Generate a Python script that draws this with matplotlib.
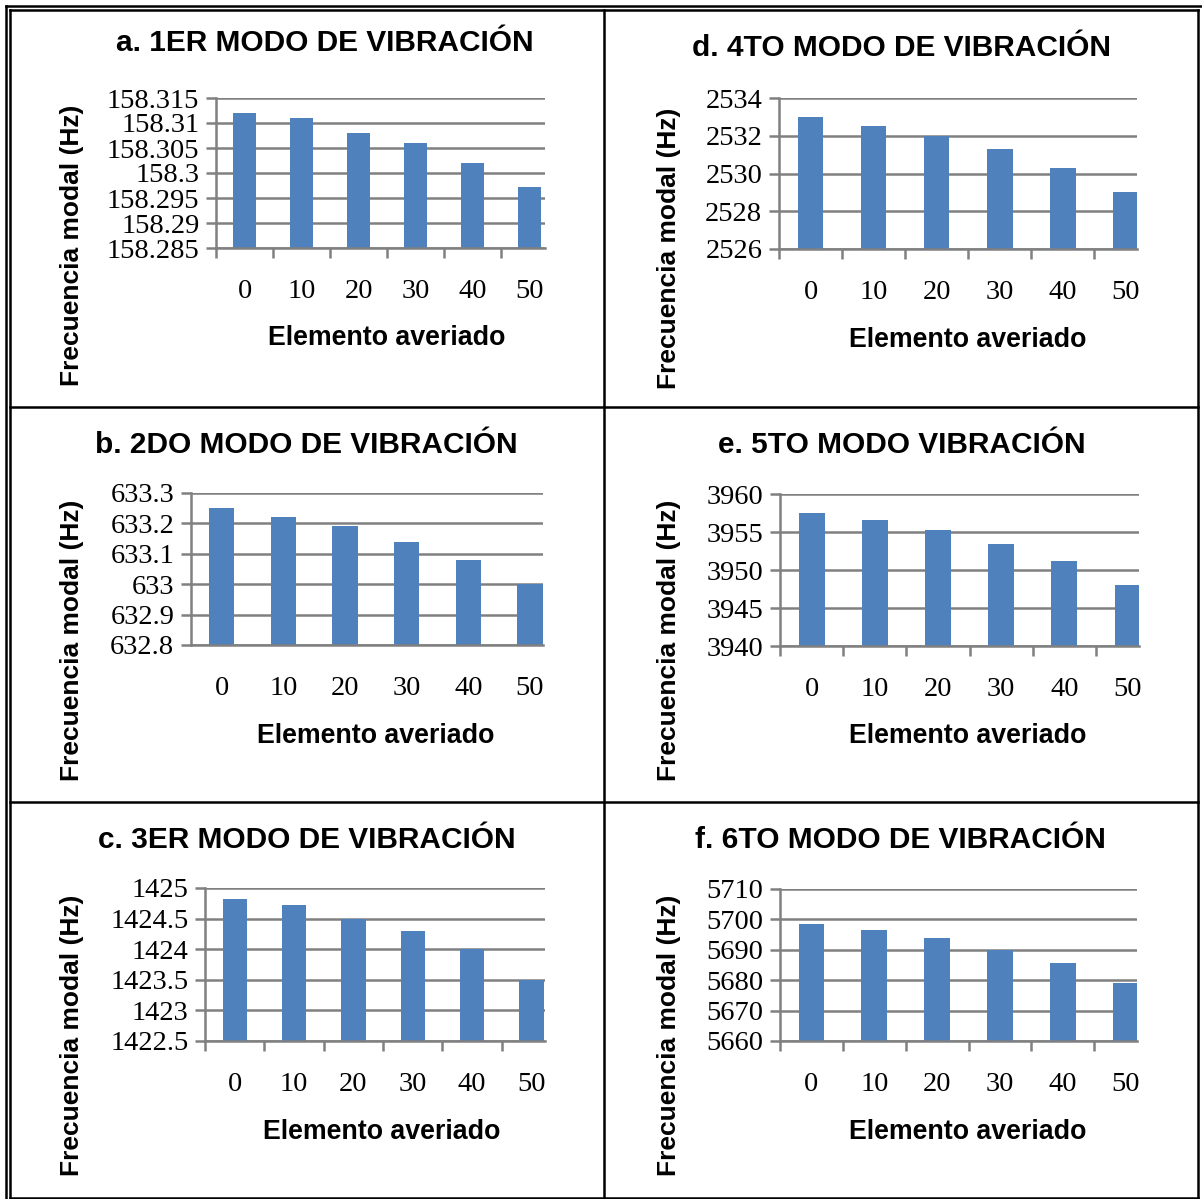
import numpy as np
import matplotlib
matplotlib.use('Agg')
import matplotlib.pyplot as plt
from matplotlib.lines import Line2D

# datos
elementos = ['0', '10', '20', '30', '40', '50']

modo1 = [158.3120, 158.3110, 158.3080, 158.3060, 158.3020, 158.2972]
modo2 = [633.25, 633.22, 633.19, 633.14, 633.08, 633.00]
modo3 = [1424.82, 1424.72, 1424.50, 1424.30, 1424.00, 1423.50]
modo4 = [2533.0, 2532.5, 2532.0, 2531.3, 2530.3, 2529.0]
modo5 = [3957.5, 3956.6, 3955.3, 3953.4, 3951.2, 3948.0]
modo6 = [5698.5, 5696.5, 5694.0, 5690.0, 5685.5, 5679.0]

ticks1 = [158.285, 158.29, 158.295, 158.3, 158.305, 158.31, 158.315]
ticks2 = [632.8, 632.9, 633.0, 633.1, 633.2, 633.3]
ticks3 = [1422.5, 1423, 1423.5, 1424, 1424.5, 1425]
ticks4 = [2526, 2528, 2530, 2532, 2534]
ticks5 = [3940, 3945, 3950, 3955, 3960]
ticks6 = [5660, 5670, 5680, 5690, 5700, 5710]

titulos = ['a. 1ER MODO DE VIBRACIÓN', 'b. 2DO MODO DE VIBRACIÓN',
           'c. 3ER MODO DE VIBRACIÓN', 'd. 4TO MODO DE VIBRACIÓN',
           'e. 5TO MODO VIBRACIÓN', 'f. 6TO MODO DE VIBRACIÓN']

W, H = 1202, 1199
fig = plt.figure(figsize=(W/100, H/100), dpi=100)

def px(x, y):
    return x/W, 1 - y/H

# marco de la tabla
def linea(x0, y0, x1, y1, lw=1.8):
    a, b = px(x0, y0)
    c, d = px(x1, y1)
    fig.add_artist(Line2D([a, c], [b, d], color='black', lw=lw, transform=fig.transFigure))

linea(6, 6, 1202, 6)
linea(6, 6, 6, 1199)
linea(10, 10, 1198, 10)
linea(10, 10, 10, 1198)
linea(1198, 10, 1198, 1198)
linea(10, 1198, 1198, 1198)
linea(604, 10, 604, 1198)
linea(10, 407, 1198, 407)
linea(10, 802, 1198, 802)

azul = '#4F81BD'
gris = '#808080'

# (datos, ticks, izq, der, arriba, abajo, xmax, titulo x,y, ylabel x,y, xlabel x,y)
paneles = [
    (modo1, ticks1, 216, 545, 98, 248, 5.27, 325, 43, 72, 245, 387, 338),
    (modo2, ticks2, 191, 543, 493, 645, 5.21, 306, 445, 72, 640, 376, 736),
    (modo3, ticks3, 205, 545, 888, 1041, 5.23, 307, 840, 72, 1035, 382, 1132),
    (modo4, ticks4, 779, 1137, 98, 249, 5.18, 902, 48, 669, 248, 968, 340),
    (modo5, ticks5, 780, 1139, 494, 646, 5.18, 902, 445, 669, 640, 968, 736),
    (modo6, ticks6, 780, 1137, 889, 1041, 5.18, 900, 840, 669, 1035, 968, 1132),
]

for i, (vals, yt, x0, x1, yt0, yb0, xmax, tx, ty, lx, ly, ex, ey) in enumerate(paneles):
    l, b = px(x0, yb0)
    ax = fig.add_axes([l, b, (x1 - x0)/W, (yb0 - yt0)/H])
    x = np.arange(len(elementos))
    ax.bar(x, vals, width=0.41, color=azul, zorder=3)
    ax.set_yticks(yt)
    ax.set_yticklabels([f'{v:g}' for v in yt], family='Liberation Serif', fontsize=20.5)
    ax.set_xticks(x)
    ax.set_xticklabels(elementos, family='Liberation Serif', fontsize=20.5)
    ax.set_xticks(np.arange(-0.5, 5.6, 1), minor=True)
    ax.set_xlim(-0.5, xmax)
    ax.set_ylim(yt[0], yt[-1])
    ax.tick_params(axis='x', which='major', length=0, pad=22)
    largo = 0 if i == 1 else 7
    ax.tick_params(axis='x', which='minor', length=largo, width=1.8, color=gris, direction='out')
    ax.tick_params(axis='y', length=7, width=1.8, color=gris, pad=5)
    ax.grid(axis='y', color=gris, lw=1.8, zorder=0)
    for s in ['top', 'right']:
        ax.spines[s].set_visible(False)
    for s in ['left', 'bottom']:
        ax.spines[s].set_color(gris)
        ax.spines[s].set_linewidth(1.8)
        ax.spines[s].set_zorder(4)

    fx, fy = px(tx, ty)
    fig.text(fx, fy, titulos[i], ha='center', va='center', fontsize=21.5,
             fontweight='bold', family='Liberation Sans')
    fx, fy = px(lx, ly)
    fig.text(fx, fy, 'Frecuencia modal (Hz)', ha='center', va='center', rotation=90,
             fontsize=19, fontweight='bold', family='Liberation Sans')
    fx, fy = px(ex, ey)
    fig.text(fx, fy, 'Elemento averiado', ha='center', va='center', fontsize=19.3,
             fontweight='bold', family='Liberation Sans')

fig.savefig('out.png', dpi=100)
